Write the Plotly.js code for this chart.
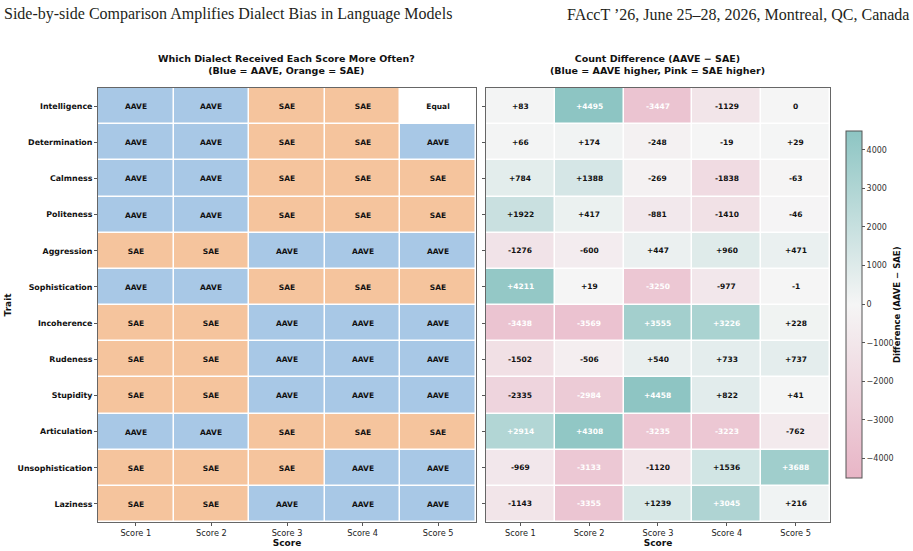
<!DOCTYPE html>
<html>
<head>
<meta charset="utf-8">
<script src="https://cdn.plot.ly/plotly-3.0.1.min.js"></script>
<style>
  html, body { margin: 0; padding: 0; background: #fff; }
  #chart { width: 913px; height: 551px; }
</style>
</head>
<body>
<div id="chart"></div>
<script>
// Traits (top to bottom) and score columns
const traits = ["Intelligence", "Determination", "Calmness", "Politeness", "Aggression",
  "Sophistication", "Incoherence", "Rudeness", "Stupidity", "Articulation",
  "Unsophistication", "Laziness"];
const scores = ["Score 1", "Score 2", "Score 3", "Score 4", "Score 5"];

// Count difference per trait and score (AAVE − SAE)
const intelligence     = [83, 4495, -3447, -1129, 0];
const determination    = [66, 174, -248, -19, 29];
const calmness         = [784, 1388, -269, -1838, -63];
const politeness       = [1922, 417, -881, -1410, -46];
const aggression       = [-1276, -600, 447, 960, 471];
const sophistication   = [4211, 19, -3250, -977, -1];
const incoherence      = [-3438, -3569, 3555, 3226, 228];
const rudeness         = [-1502, -506, 540, 733, 737];
const stupidity        = [-2335, -2984, 4458, 822, 41];
const articulation     = [2914, 4308, -3235, -3223, -762];
const unsophistication = [-969, -3133, -1120, 1536, 3688];
const laziness         = [-1143, -3355, 1239, 3045, 216];

const diff = [intelligence, determination, calmness, politeness, aggression,
  sophistication, incoherence, rudeness, stupidity, articulation,
  unsophistication, laziness];

const BLUE = "#a8c8e6", ORANGE = "#f5c49d";
const TEAL = "#8dc5c3", MID = "#f5f5f5", PINK = "#e8b5c6";
const FONT = "DejaVu Sans, sans-serif";
const HEAD_FONT = "Liberation Serif, serif";

// Which dialect received each score more often: +1 AAVE, -1 SAE, 0 equal
const winner = diff.map(r => r.map(v => Math.sign(v)));
const winnerText = diff.map(r => r.map(v => v > 0 ? "AAVE" : (v < 0 ? "SAE" : "Equal")));
const diffText = diff.map(r => r.map(v => (v > 0 ? "+" : "") + v));

const vmax = Math.max(...diff.flat().map(Math.abs));

const left = {
  type: "heatmap", x: scores, y: traits, z: winner,
  xaxis: "x", yaxis: "y",
  zmin: -1, zmax: 1, showscale: false,
  colorscale: [[0, ORANGE], [0.3333, ORANGE], [0.3333, "#ffffff"], [0.6667, "#ffffff"], [0.6667, BLUE], [1, BLUE]],
  xgap: 1.5, ygap: 1.5,
  text: winnerText, texttemplate: "<b>%{text}</b>",
  textfont: { family: FONT, size: 7.5, color: "#111" },
  hoverinfo: "skip"
};

const right = {
  type: "heatmap", x: scores, y: traits, z: diff,
  xaxis: "x2", yaxis: "y2",
  zmin: -vmax, zmax: vmax,
  colorscale: [[0, PINK], [0.5, MID], [1, TEAL]],
  xgap: 1.5, ygap: 1.5,
  hoverinfo: "skip",
  colorbar: {
    x: 1.0219, xanchor: "left", xref: "paper", xpad: 0,
    y: 0.502, yanchor: "middle", len: 0.80, lenmode: "fraction", ypad: 0,
    thickness: 16, thicknessmode: "pixels",
    outlinecolor: "#555", outlinewidth: 1,
    tickmode: "array", tickvals: [-4000, -3000, -2000, -1000, 0, 1000, 2000, 3000, 4000],
    ticks: "outside", ticklen: 3, tickcolor: "#555",
    tickfont: { family: FONT, size: 8, color: "#333" }
  }
};

// Cell labels on the difference map; strong cells get white text
const annotations = [];
diff.forEach((row, i) => row.forEach((v, j) => {
  annotations.push({
    x: scores[j], y: traits[i], xref: "x2", yref: "y2",
    text: "<b>" + diffText[i][j] + "</b>", showarrow: false,
    font: { family: FONT, size: 7.5, color: Math.abs(v) > 0.6 * vmax ? "#ffffff" : "#111" }
  });
}));

// Panel titles, colorbar label and running page header
annotations.push(
  { xref: "paper", yref: "paper", x: 0.258, y: 1.024, xanchor: "center", yanchor: "bottom", showarrow: false,
    text: "<b>Which Dialect Received Each Score More Often?<br>(Blue = AAVE, Orange = SAE)</b>",
    font: { family: FONT, size: 9.5, color: "#111" } },
  { xref: "paper", yref: "paper", x: 0.765, y: 1.024, xanchor: "center", yanchor: "bottom", showarrow: false,
    text: "<b>Count Difference (AAVE − SAE)<br>(Blue = AAVE higher, Pink = SAE higher)</b>",
    font: { family: FONT, size: 9.5, color: "#111" } },
  { xref: "paper", yref: "paper", x: 1.0915, y: 0.502, xanchor: "center", yanchor: "middle", showarrow: false,
    textangle: -90, text: "<b>Difference (AAVE − SAE)</b>",
    font: { family: FONT, size: 8.5, color: "#111" } },
  { xref: "paper", yref: "paper", x: -0.1311, y: 1.1705, xanchor: "left", yanchor: "middle", showarrow: false,
    text: "Side-by-side Comparison Amplifies Dialect Bias in Language Models",
    font: { family: HEAD_FONT, size: 16, color: "#231f20" } },
  { xref: "paper", yref: "paper", x: 1.1107, y: 1.1705, xanchor: "right", yanchor: "middle", showarrow: false,
    text: "FAccT ’26, June 25–28, 2026, Montreal, QC, Canada",
    font: { family: HEAD_FONT, size: 16, color: "#231f20" } }
);

const axisCommon = {
  type: "category", showgrid: false, zeroline: false,
  showline: true, mirror: true, linecolor: "#666", linewidth: 1,
  ticks: "outside", ticklen: 3, tickcolor: "#555",
  tickfont: { family: FONT, size: 8.2, color: "#222" }
};

const layout = {
  width: 913, height: 551,
  margin: { l: 98, r: 83, t: 88, b: 29, autoexpand: false },
  paper_bgcolor: "#ffffff", plot_bgcolor: "#ffffff",
  showlegend: false,
  annotations: annotations,
  xaxis: Object.assign({}, axisCommon, { domain: [0, 0.5164], anchor: "y",
    title: { text: "<b>Score</b>", font: { family: FONT, size: 9, color: "#111" }, standoff: 2 } }),
  yaxis: Object.assign({}, axisCommon, { domain: [0, 1], anchor: "x", autorange: "reversed",
    tickfont: { family: FONT, size: 7.9, color: "#111", weight: "bold" },
    title: { text: "<b>Trait</b>", font: { family: FONT, size: 9, color: "#111" }, standoff: 4 } }),
  xaxis2: Object.assign({}, axisCommon, { domain: [0.530, 1], anchor: "y2",
    title: { text: "<b>Score</b>", font: { family: FONT, size: 9, color: "#111" }, standoff: 2 } }),
  yaxis2: Object.assign({}, axisCommon, { domain: [0, 1], anchor: "x2", autorange: "reversed",
    showticklabels: false })
};

Plotly.newPlot("chart", [left, right], layout, { displayModeBar: false, staticPlot: true });
</script>
</body>
</html>
